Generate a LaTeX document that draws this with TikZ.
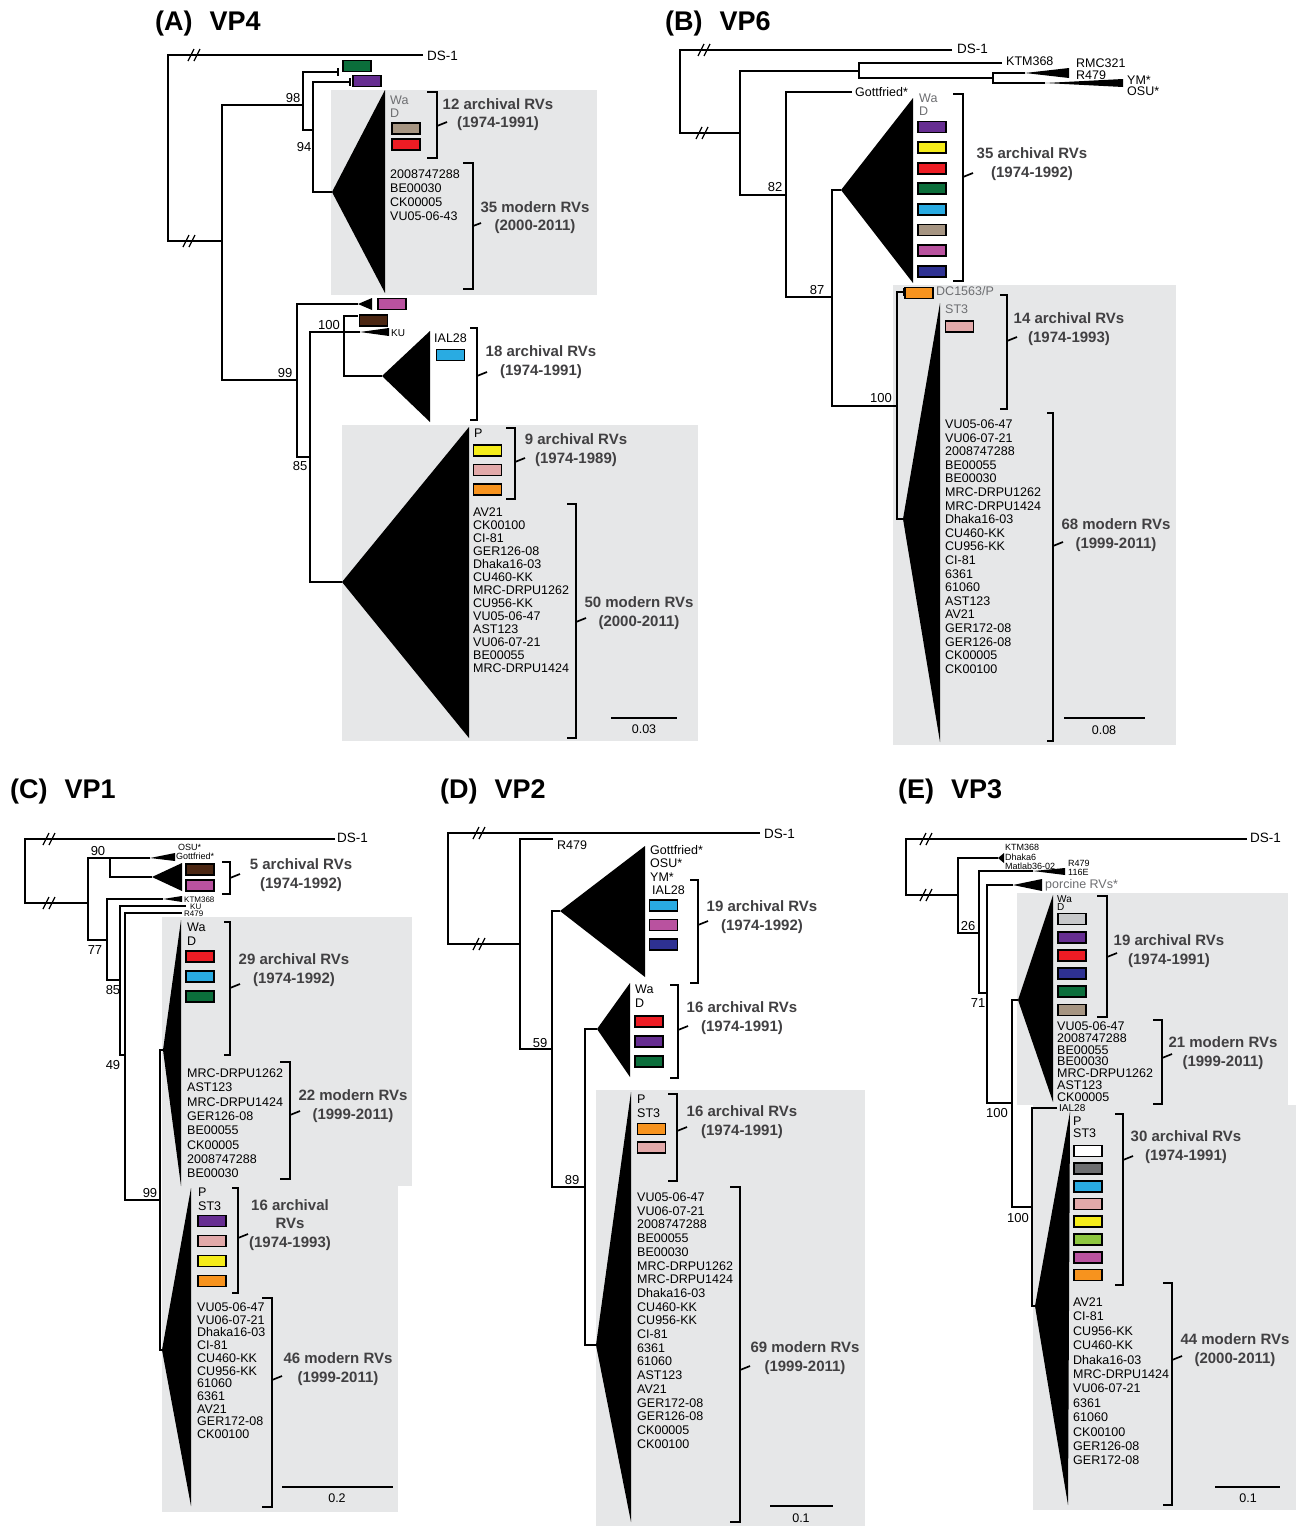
\documentclass[tikz,border=0pt]{standalone}
\usepackage{fontspec}
\setmainfont{Liberation Sans}
\definecolor{cGreen}{HTML}{0B6E3B}
\definecolor{cPurple}{HTML}{662D91}
\definecolor{cTan}{HTML}{A69582}
\definecolor{cRed}{HTML}{ED1C24}
\definecolor{cMag}{HTML}{B9529F}
\definecolor{cBrown}{HTML}{4B2612}
\definecolor{cCyan}{HTML}{29ABE2}
\definecolor{cYellow}{HTML}{F5EC1A}
\definecolor{cPink}{HTML}{E2A9A9}
\definecolor{cOrange}{HTML}{F7931E}
\definecolor{cNavy}{HTML}{2E3192}
\definecolor{cLgray}{HTML}{C7C8CA}
\definecolor{cDgray}{HTML}{6D6E70}
\definecolor{cLgreen}{HTML}{8DC63F}
\definecolor{bgGray}{HTML}{E6E7E8}
\definecolor{txtGray}{HTML}{6D6E71}
\definecolor{cntGray}{HTML}{414042}
\tikzset{
  br/.style={line width=1.8pt},
  brk/.style={line width=1.7pt},
  clade/.style={fill=black},
  shade/.style={fill=bgGray},
  sw/.style={draw=black,line width=1.7pt,minimum width=28pt,minimum height=11pt,inner sep=0pt},
  lab/.style={font=\fontsize{12.5}{14}\selectfont,anchor=base west,inner sep=0pt},
  labg/.style={lab,text=txtGray},
  dsl/.style={font=\fontsize{13.5}{14}\selectfont,anchor=base west,inner sep=0pt},
  tiny/.style={font=\fontsize{9}{10}\selectfont,anchor=base west,inner sep=0pt},
  boot/.style={font=\fontsize{13}{14}\selectfont,inner sep=0pt},
  cnt/.style={font=\bfseries\fontsize{15}{18.5}\selectfont,text=cntGray,align=center,inner sep=0pt},
  ttl/.style={font=\bfseries\fontsize{27}{30}\selectfont,anchor=base west,inner sep=0pt},
  dslash/.pic={\draw[line width=1.3pt] (-7,6) -- (-1,-6) (-1,6) -- (5,-6);},
}
\begin{document}
\begin{tikzpicture}[x=1pt,y=-1pt]
\fill[white] (0,0) rectangle (1303,1526);
\useasboundingbox (0,0) rectangle (1303,1526);

% ---------------- (A) VP4
\node[ttl] (ttlA) at (155,30) {(A)\hspace{17pt}VP4};
\fill[shade] (331,90) rectangle (597,295);
\fill[shade] (342,425) rectangle (698,741);
\coordinate (aDS) at (423,55);
\coordinate (aR) at (168,148);
\coordinate (aX) at (222,241);
\coordinate (a98) at (303,105);
\coordinate (aGr) at (338,72);
\coordinate (a94) at (313,130);
\coordinate (aPu) at (350,82);
\coordinate (aC1) at (332,192);
\coordinate (a99) at (297,380);
\coordinate (aMa) at (358,304);
\coordinate (a85) at (310,457);
\coordinate (a100) at (344,332);
\coordinate (aBr) at (358,316);
\coordinate (aKU) at (360,332);
\coordinate (aC3) at (382,376);
\coordinate (aC2) at (342,582);
\draw[br] (aDS) -| (aR) |- (aX);
\draw[br] (a98) -| (aX) |- (a99);
\draw[br] (aGr) -| (a98) |- (a94);
\draw[br] (aPu) -| (a94) |- (aC1);
\draw[br] (aMa) -| (a99) |- (a85);
\draw[br] (a100) -| (a85) |- (aC2);
\draw[br] (aBr) -| (a100) |- (aC3);
\draw[br] (a100) -- (aKU);
\draw[br] (aGr) ++(0,-4) -- ++(0,8);
\draw[br] (aPu) ++(0,-4) -- ++(0,8);
\fill[clade] (aC1) -- (385,90) -- (385,293) -- cycle;
\fill[clade] (aMa) -- (372,298) -- (372,310) -- cycle;
\fill[clade] (aKU) -- (389,328) -- (389,336) -- cycle;
\fill[clade] (aC3) -- (430,331) -- (430,422) -- cycle;
\fill[clade] (aC2) -- (469,427) -- (469,738) -- cycle;
\pic at (195,55) {dslash};
\pic at (190,241) {dslash};
\node[dsl] (aDSl) at (427,60) {DS-1};
\node[sw,fill=cGreen] (aSg) at (357,66) {};
\node[sw,fill=cPurple] (aSp) at (367,81) {};
\node[labg] (aWa) at (390,104.5) {Wa};
\node[labg] (aD) at (390,117.5) {D};
\node[sw,fill=cTan] (aS1) at (406,128.5) {};
\node[sw,fill=cRed] (aS2) at (406,144.5) {};
\foreach \s [count=\i] in {2008747288,BE00030,CK00005,VU05-06-43}
  \node[lab] (aL\i) at (390,{178+14.3*(\i-1)}) {\s};
\draw[brk] (427,92) -| (437,158) -- (427,158);
\draw[brk] (437,126) -- ++(10,-4);
\node[cnt] (aT1) at (498,114.5) {12 archival RVs\\(1974-1991)};
\draw[brk] (463,163) -| (473,289) -- (463,289);
\draw[brk] (473,226) -- ++(8,-3);
\node[cnt] (aT2) at (535,217.5) {35 modern RVs\\(2000-2011)};
\node[sw,fill=cMag] (aSm) at (392,304) {};
\node[sw,fill=cBrown] (aSb) at (373.5,320.5) {};
\node[tiny,font=\fontsize{10}{10}\selectfont] (aKUl) at (391,336.5) {KU};
\node[lab] (aIAL) at (434,342.5) {IAL28};
\node[sw,fill=cCyan] (aSc) at (450.5,355) {};
\draw[brk] (470,328) -| (477,420) -- (470,420);
\draw[brk] (477,376) -- ++(10,-4);
\node[cnt] (aT3) at (541,362) {18 archival RVs\\(1974-1991)};
\node[lab] (aP) at (474,437.5) {P};
\foreach \c [count=\i] in {cYellow,cPink,cOrange}
  \node[sw,fill=\c] (aSw\i) at (487.5,{450.5+19.5*(\i-1)}) {};
\draw[brk] (506,428) -| (515,499) -- (506,499);
\draw[brk] (515,462) -- ++(10,-4);
\node[cnt] (aT4) at (576,450) {9 archival RVs\\(1974-1989)};
\foreach \s [count=\i] in {AV21,CK00100,CI-81,GER126-08,Dhaka16-03,CU460-KK,MRC-DRPU1262,CU956-KK,VU05-06-47,AST123,VU06-07-21,BE00055,MRC-DRPU1424}
  \node[lab] (aM\i) at (473,{516.5+13*(\i-1)}) {\s};
\draw[brk] (567,504) -| (576,738) -- (567,738);
\draw[brk] (576,622) -- ++(10,-4);
\node[cnt] (aT5) at (639,613) {50 modern RVs\\(2000-2011)};
\node[boot] (aB98) at (293,98) {98};
\node[boot] (aB94) at (304,147) {94};
\node[boot] (aB99) at (285,373) {99};
\node[boot] (aB85) at (300,466) {85};
\node[boot] (aB100) at (329,325) {100};
\draw[brk] (611,718) -- (677,718);
\node[lab,anchor=base] (aScl) at (644,733.5) {0.03};

% ---------------- (B) VP6
\node[ttl] (ttlB) at (665,30) {(B)\hspace{17pt}VP6};
\fill[shade] (893,285) rectangle (1176,745);
\coordinate (bDS) at (952,50);
\coordinate (bR) at (680,92);
\coordinate (bX) at (740,133);
\coordinate (bN1) at (859,71);
\coordinate (bKTM) at (1002,63);
\coordinate (bN2) at (993,78);
\coordinate (bRMC) at (1025,73);
\coordinate (bYM) at (1045,83);
\coordinate (b82) at (786,195);
\coordinate (bGot) at (852,92);
\coordinate (b87) at (832,297);
\coordinate (bC1) at (841,190);
\coordinate (b100) at (897,406);
\coordinate (bDC) at (904,292);
\coordinate (bC2) at (903,519);
\draw[br] (bDS) -| (bR) |- (bX);
\draw[br] (bN1) -| (bX) |- (b82);
\draw[br] (bKTM) -| (bN1) |- (bN2);
\draw[br] (bRMC) -| (bN2) |- (bYM);
\draw[br] (bGot) -| (b82) |- (b87);
\draw[br] (bC1) -| (b87) |- (b100);
\draw[br] (bDC) -| (b100) |- (bC2);
\draw[br] (bDC) ++(0,-4) -- ++(0,8);
\fill[clade] (bRMC) -- (1069,68) -- (1069,78) -- cycle;
\fill[clade] (bYM) -- (1123,79) -- (1123,87) -- cycle;
\fill[clade] (bC1) -- (913,98) -- (913,283) -- cycle;
\fill[clade] (940,303) -- (bC2) -- (940,742) -- cycle;
\pic at (705,50) {dslash};
\pic at (703,133) {dslash};
\node[dsl] (bDSl) at (957,53) {DS-1};
\node[lab] (bKTMl) at (1006,65.5) {KTM368};
\node[lab] (bRMCl) at (1076,67.5) {RMC321};
\node[lab] (bR479) at (1076,79.5) {R479};
\node[lab] (bYMl) at (1127,84.5) {YM*};
\node[lab] (bOSU) at (1127,95.5) {OSU*};
\node[lab] (bGotl) at (855,96.5) {Gottfried*};
\node[labg] (bWa) at (919,102.5) {Wa};
\node[labg] (bD) at (919,115.5) {D};
\foreach \c [count=\i] in {cPurple,cYellow,cRed,cGreen,cCyan,cTan,cMag,cNavy}
  \node[sw,fill=\c] (bS\i) at (932,{127+20.6*(\i-1)}) {};
\draw[brk] (953,94) -| (963,281) -- (953,281);
\draw[brk] (963,177) -- ++(10,-4);
\node[cnt] (bT1) at (1032,164) {35 archival RVs\\(1974-1992)};
\node[sw,fill=cOrange] (bSo) at (919,293) {};
\node[labg] (bDCl) at (936,295.5) {DC1563/P};
\node[labg] (bST3) at (945,313.5) {ST3};
\node[sw,fill=cPink] (bSpk) at (959.5,326.5) {};
\draw[brk] (1000,295) -| (1007,409) -- (1000,409);
\draw[brk] (1007,341) -- ++(10,-4);
\node[cnt] (bT2) at (1069,329) {14 archival RVs\\(1974-1993)};
\foreach \s [count=\i] in {VU05-06-47,VU06-07-21,2008747288,BE00055,BE00030,MRC-DRPU1262,MRC-DRPU1424,Dhaka16-03,CU460-KK,CU956-KK,CI-81,6361,61060,AST123,AV21,GER172-08,GER126-08,CK00005,CK00100}
  \node[lab] (bM\i) at (945,{428.5+13.6*(\i-1)}) {\s};
\draw[brk] (1047,413) -| (1053,741) -- (1047,741);
\draw[brk] (1053,546) -- ++(10,-4);
\node[cnt] (bT3) at (1116,535) {68 modern RVs\\(1999-2011)};
\node[boot] (bB82) at (775,187) {82};
\node[boot] (bB87) at (817,290) {87};
\node[boot] (bB100) at (881,398) {100};
\draw[brk] (1064,718) -- (1145,718);
\node[lab,anchor=base] (bScl) at (1104,734.5) {0.08};

% ---------------- (C) VP1
\node[ttl] (ttlC) at (10,798) {(C)\hspace{17pt}VP1};
\fill[shade] (162,917) rectangle (412,1186);
\fill[shade] (162,1186) rectangle (398,1512);
\coordinate (cDS) at (335,839);
\coordinate (cR) at (25,870);
\coordinate (cX) at (88,903);
\coordinate (c90) at (110,858);
\coordinate (cOSU) at (150,858);
\coordinate (cC1) at (152,877);
\coordinate (c77) at (107,940);
\coordinate (cKTM) at (163,899);
\coordinate (c85) at (120,980);
\coordinate (cKU) at (186,906);
\coordinate (c49) at (125,1055);
\coordinate (cR479) at (182,913);
\coordinate (c99) at (160,1200);
\coordinate (cC2) at (163,1050);
\coordinate (cC3) at (162,1350);
\draw[br] (cDS) -| (cR) |- (cX);
\draw[br] (c90) -| (cX) |- (c77);
\draw[br] (cOSU) -| (c90) |- (cC1);
\draw[br] (cKTM) -| (c77) |- (c85);
\draw[br] (cKU) -| (c85) |- (c49);
\draw[br] (cR479) -| (c49) |- (c99);
\draw[br] (cC2) -| (c99) |- (cC3);
\fill[clade] (cOSU) -- (175,853) -- (175,861) -- cycle;
\fill[clade] (cC1) -- (182,863) -- (182,891) -- cycle;
\fill[clade] (cKTM) -- (182,896) -- (182,902) -- cycle;
\fill[clade] (cC2) -- (181,920) -- (181,1186) -- cycle;
\fill[clade] (cC3) -- (191,1188) -- (191,1506) -- cycle;
\pic at (50,839) {dslash};
\pic at (50,903) {dslash};
\node[dsl] (cDSl) at (337,842) {DS-1};
\node[tiny] (cOSUl) at (178,850.2) {OSU*};
\node[tiny] (cGot) at (176,859.2) {Gottfried*};
\node[tiny,font=\fontsize{8}{8}\selectfont] (cKTMl) at (184,902) {KTM368};
\node[tiny,font=\fontsize{8}{8}\selectfont] (cKUl) at (190,909) {KU};
\node[tiny,font=\fontsize{8}{8}\selectfont] (cR479l) at (184,916.5) {R479};
\node[sw,fill=cBrown] (cSb) at (200,869.5) {};
\node[sw,fill=cMag] (cSm) at (200,885.5) {};
\draw[brk] (222,862) -| (230,894) -- (222,894);
\draw[brk] (230,878) -- ++(10,-4);
\node[cnt] (cT1) at (301,875) {5 archival RVs\\(1974-1992)};
\node[lab] (cWa) at (187,931.5) {Wa};
\node[lab] (cD) at (187,945.5) {D};
\foreach \c [count=\i] in {cRed,cCyan,cGreen}
  \node[sw,fill=\c] (cS\i) at (200,{956.5+20*(\i-1)}) {};
\draw[brk] (224,922) -| (230,1055) -- (224,1055);
\draw[brk] (230,988) -- ++(10,-4);
\node[cnt] (cT2) at (294,970) {29 archival RVs\\(1974-1992)};
\foreach \s [count=\i] in {MRC-DRPU1262,AST123,MRC-DRPU1424,GER126-08,BE00055,CK00005,2008747288,BE00030}
  \node[lab] (cL\i) at (187,{1077.5+14.3*(\i-1)}) {\s};
\draw[brk] (280,1062) -| (290,1179) -- (280,1179);
\draw[brk] (290,1115) -- ++(10,-4);
\node[cnt] (cT3) at (353,1106) {22 modern RVs\\(1999-2011)};
\node[lab] (cP) at (198,1196.5) {P};
\node[lab] (cST3) at (198,1210.5) {ST3};
\foreach \c [count=\i] in {cPurple,cPink,cYellow,cOrange}
  \node[sw,fill=\c] (cSw\i) at (212,{1221+20*(\i-1)}) {};
\draw[brk] (232,1188) -| (238,1293) -- (232,1293);
\draw[brk] (238,1238) -- ++(10,-4);
\node[cnt] (cT4) at (290,1225) {16 archival\\RVs\\(1974-1993)};
\foreach \s [count=\i] in {VU05-06-47,VU06-07-21,Dhaka16-03,CI-81,CU460-KK,CU956-KK,61060,6361,AV21,GER172-08,CK00100}
  \node[lab] (cM\i) at (197,{1311.5+12.7*(\i-1)}) {\s};
\draw[brk] (262,1298) -| (272,1507) -- (262,1507);
\draw[brk] (272,1380) -- ++(10,-4);
\node[cnt] (cT5) at (338,1369) {46 modern RVs\\(1999-2011)};
\node[boot] (cB90) at (98,851) {90};
\node[boot] (cB77) at (95,950) {77};
\node[boot] (cB85) at (113,990) {85};
\node[boot] (cB49) at (113,1065) {49};
\node[boot] (cB99) at (150,1193) {99};
\draw[brk] (282,1487) -- (393,1487);
\node[lab,anchor=base] (cScl) at (337,1502.5) {0.2};

% ---------------- (D) VP2
\node[ttl] (ttlD) at (440,798) {(D)\hspace{17pt}VP2};
\fill[shade] (596,1090) rectangle (865,1526);
\coordinate (dDS) at (760,833);
\coordinate (dR) at (448,888);
\coordinate (dX) at (520,944);
\coordinate (dR479) at (553,839);
\coordinate (d59) at (552,1049);
\coordinate (dC1) at (560,911);
\coordinate (d89) at (585,1187);
\coordinate (dC2) at (597,1029);
\coordinate (dC3) at (596,1345);
\draw[br] (dDS) -| (dR) |- (dX);
\draw[br] (dR479) -| (dX) |- (d59);
\draw[br] (dC1) -| (d59) |- (d89);
\draw[br] (dC2) -| (d89) |- (dC3);
\fill[clade] (dC1) -- (645,846) -- (645,977) -- cycle;
\fill[clade] (dC2) -- (630,983) -- (630,1077) -- cycle;
\fill[clade] (dC3) -- (631,1092) -- (631,1522) -- cycle;
\pic at (480,833) {dslash};
\pic at (480,944) {dslash};
\node[dsl] (dDSl) at (764,838) {DS-1};
\node[lab] (dR479l) at (557,849) {R479};
\node[lab] (dGot) at (650,854.5) {Gottfried*};
\node[lab] (dOSU) at (650,867.5) {OSU*};
\node[lab] (dYM) at (650,881.5) {YM*};
\node[lab] (dIAL) at (652,894.5) {IAL28};
\foreach \c [count=\i] in {cCyan,cMag,cNavy}
  \node[sw,fill=\c] (dS\i) at (663.5,{905.5+19.5*(\i-1)}) {};
\draw[brk] (690,880) -| (698,983) -- (690,983);
\draw[brk] (698,925) -- ++(10,-4);
\node[cnt] (dT1) at (762,917) {19 archival RVs\\(1974-1992)};
\node[lab] (dWa) at (635,993.5) {Wa};
\node[lab] (dD) at (635,1007.5) {D};
\foreach \c [count=\i] in {cRed,cPurple,cGreen}
  \node[sw,fill=\c] (dSw\i) at (649,{1021.5+20*(\i-1)}) {};
\draw[brk] (670,985) -| (678,1078) -- (670,1078);
\draw[brk] (678,1030) -- ++(10,-4);
\node[cnt] (dT2) at (742,1018) {16 archival RVs\\(1974-1991)};
\node[lab] (dP) at (637,1103.5) {P};
\node[lab] (dST3) at (637,1117.5) {ST3};
\node[sw,fill=cOrange] (dSo) at (651.5,1129) {};
\node[sw,fill=cPink] (dSpk) at (651.5,1147.5) {};
\draw[brk] (668,1094) -| (677,1181) -- (668,1181);
\draw[brk] (677,1131) -- ++(10,-4);
\node[cnt] (dT3) at (742,1122) {16 archival RVs\\(1974-1991)};
\foreach \s [count=\i] in {VU05-06-47,VU06-07-21,2008747288,BE00055,BE00030,MRC-DRPU1262,MRC-DRPU1424,Dhaka16-03,CU460-KK,CU956-KK,CI-81,6361,61060,AST123,AV21,GER172-08,GER126-08,CK00005,CK00100}
  \node[lab] (dM\i) at (637,{1201.5+13.7*(\i-1)}) {\s};
\draw[brk] (730,1187) -| (740,1522) -- (730,1522);
\draw[brk] (740,1370) -- ++(10,-4);
\node[cnt] (dT4) at (805,1358) {69 modern RVs\\(1999-2011)};
\node[boot] (dB59) at (540,1043) {59};
\node[boot] (dB89) at (572,1180) {89};
\draw[brk] (770,1506) -- (833,1506);
\node[lab,anchor=base] (dScl) at (801,1522.5) {0.1};

% ---------------- (E) VP3
\node[ttl] (ttlE) at (898,798) {(E)\hspace{17pt}VP3};
\fill[shade] (1017,893) rectangle (1288,1105);
\fill[shade] (1033,1105) rectangle (1296,1510);
\coordinate (eDS) at (1247,839);
\coordinate (eR) at (906,867);
\coordinate (eX) at (958,895);
\coordinate (eKTM) at (998,858);
\coordinate (e26) at (979,933);
\coordinate (eR479) at (1033,871);
\coordinate (e71) at (987,993);
\coordinate (ePor) at (1013,885);
\coordinate (e100a) at (1012,1103);
\coordinate (eC1) at (1018,1000);
\coordinate (e100b) at (1032,1207);
\coordinate (eIAL) at (1057,1108);
\coordinate (eC2) at (1035,1306);
\draw[br] (eDS) -| (eR) |- (eX);
\draw[br] (eKTM) -| (eX) |- (e26);
\draw[br] (eR479) -| (e26) |- (e71);
\draw[br] (ePor) -| (e71) |- (e100a);
\draw[br] (eC1) -| (e100a) |- (e100b);
\draw[br] (eIAL) -| (e100b) |- (eC2);
\fill[clade] (eKTM) -- (1004,853) -- (1004,863) -- cycle;
\fill[clade] (eR479) -- (1065,868) -- (1065,875) -- cycle;
\fill[clade] (ePor) -- (1042,879) -- (1042,891) -- cycle;
\fill[clade] (eC1) -- (1053,895) -- (1053,1102) -- cycle;
\fill[clade] (eC2) -- (1070,1112) -- (1068,1505) -- cycle;
\pic at (927,839) {dslash};
\pic at (927,895) {dslash};
\node[dsl] (eDSl) at (1250,842) {DS-1};
\node[tiny] (eKTMl) at (1005,850.2) {KTM368};
\node[tiny] (eDh) at (1005,860.2) {Dhaka6};
\node[tiny] (eMat) at (1005,869.2) {Matlab36-02};
\node[tiny] (eR479l) at (1068,866.2) {R479};
\node[tiny] (e116) at (1068,875.2) {116E};
\node[labg] (ePorl) at (1045,888.5) {porcine RVs*};
\node[tiny,font=\fontsize{10}{10}\selectfont] (eWa) at (1057,902.5) {Wa};
\node[tiny,font=\fontsize{10}{10}\selectfont] (eD) at (1057,910.5) {D};
\foreach \c [count=\i] in {cLgray,cPurple,cRed,cNavy,cGreen,cTan}
  \node[sw,fill=\c] (eS\i) at (1072,{919+18.2*(\i-1)}) {};
\draw[brk] (1097,896) -| (1107,1017) -- (1097,1017);
\draw[brk] (1107,957) -- ++(10,-4);
\node[cnt] (eT1) at (1169,951) {19 archival RVs\\(1974-1991)};
\foreach \s [count=\i] in {VU05-06-47,2008747288,BE00055,BE00030,MRC-DRPU1262,AST123,CK00005}
  \node[lab] (eL\i) at (1057,{1030.5+11.8*(\i-1)}) {\s};
\draw[brk] (1153,1020) -| (1162,1104) -- (1153,1104);
\draw[brk] (1162,1058) -- ++(10,-4);
\node[cnt] (eT2) at (1223,1053) {21 modern RVs\\(1999-2011)};
\node[tiny,font=\fontsize{10}{10}\selectfont] (eIALl) at (1059,1111.5) {IAL28};
\node[lab] (eP) at (1073,1125.5) {P};
\node[lab] (eST3) at (1073,1137.5) {ST3};
\foreach \c [count=\i] in {white,cDgray,cCyan,cPink,cYellow,cLgreen,cMag,cOrange}
  \node[sw,fill=\c] (eSw\i) at (1088,{1151+17.7*(\i-1)}) {};
\draw[brk] (1115,1114) -| (1123,1285) -- (1115,1285);
\draw[brk] (1123,1160) -- ++(10,-4);
\node[cnt] (eT3) at (1186,1147) {30 archival RVs\\(1974-1991)};
\foreach \s [count=\i] in {AV21,CI-81,CU956-KK,CU460-KK,Dhaka16-03,MRC-DRPU1424,VU06-07-21,6361,61060,CK00100,GER126-08,GER172-08}
  \node[lab] (eM\i) at (1073,{1306.5+14.4*(\i-1)}) {\s};
\draw[brk] (1163,1283) -| (1172,1505) -- (1163,1505);
\draw[brk] (1172,1360) -- ++(10,-4);
\node[cnt] (eT4) at (1235,1350) {44 modern RVs\\(2000-2011)};
\node[boot] (eB26) at (968,926) {26};
\node[boot] (eB71) at (978,1003) {71};
\node[boot] (eB100a) at (997,1113) {100};
\node[boot] (eB100b) at (1018,1218) {100};
\draw[brk] (1215,1487) -- (1280,1487);
\node[lab,anchor=base] (eScl) at (1248,1502.5) {0.1};
\end{tikzpicture}
\end{document}
